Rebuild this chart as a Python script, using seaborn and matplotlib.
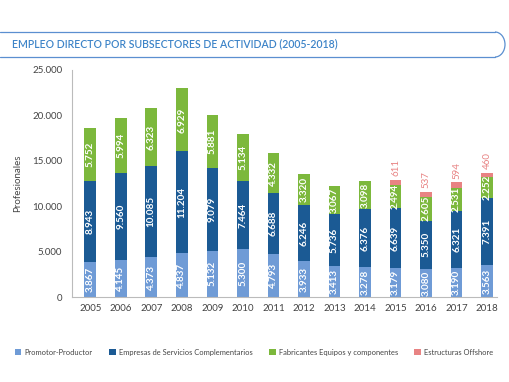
import matplotlib.pyplot as plt
import numpy as np
import pandas as pd
import seaborn as sns
from matplotlib.patches import Arc, Patch
from matplotlib.lines import Line2D

years = ['2005', '2006', '2007', '2008', '2009', '2010', '2011',
         '2012', '2013', '2014', '2015', '2016', '2017', '2018']
promotor = [3867, 4145, 4373, 4837, 5132, 5300, 4793, 3933, 3413, 3278, 3179, 3080, 3190, 3563]
servicios = [8943, 9560, 10085, 11204, 9079, 7464, 6688, 6246, 5736, 6376, 6639, 5350, 6321, 7391]
fabricantes = [5752, 5994, 6323, 6929, 5881, 5134, 4332, 3320, 3067, 3098, 2494, 2605, 2531, 2252]
offshore = [0, 0, 0, 0, 0, 0, 0, 0, 0, 0, 611, 537, 594, 460]

names = ['Promotor-Productor', 'Empresas de Servicios Complementarios',
         'Fabricantes Equipos y componentes', 'Estructuras Offshore']
colors = ['#6f9bd6', '#1b5a94', '#7cb83c', '#e88383']

df = pd.DataFrame({'year': years, 'p': promotor, 's': servicios,
                   'f': fabricantes, 'o': offshore})
df['c1'] = df['p']
df['c2'] = df['c1'] + df['s']
df['c3'] = df['c2'] + df['f']
df['c4'] = df['c3'] + df['o']

sns.set_style('white')
plt.rcParams['font.family'] = ['Lato', 'DejaVu Sans']

fig = plt.figure(figsize=(5.1, 3.82), dpi=100)
ax = fig.add_axes([0.141, 0.222, 0.834, 0.595])

w = 0.38
for col, c in zip(['c4', 'c3', 'c2', 'c1'], colors[::-1]):
    sns.barplot(data=df, x='year', y=col, color=c, width=w, ax=ax,
                saturation=1, linewidth=0)

def fmt(v):
    return f'{v:,}'.replace(',', '.')

for i in range(len(years)):
    bottoms = [0, df['c1'][i], df['c2'][i]]
    vals = [promotor[i], servicios[i], fabricantes[i]]
    for b, v in zip(bottoms, vals):
        ax.text(i, b + v / 2, fmt(v), rotation=90, ha='center', va='center',
                color='white', fontsize=7.1, fontweight='bold')
    if offshore[i]:
        ax.text(i, df['c4'][i] + 400, fmt(offshore[i]), rotation=90,
                ha='center', va='bottom', color=colors[3], fontsize=7)

ax.set_ylim(0, 25000)
ax.set_xlim(-0.6, 13.33)
ax.set_yticks(range(0, 25001, 5000))
ax.set_yticklabels([fmt(v) for v in range(0, 25001, 5000)])
ax.tick_params(axis='both', length=0, labelsize=7, colors='#444444')
ax.tick_params(axis='y', pad=7)
ax.tick_params(axis='x', pad=5)
ax.set_xlabel('')
ax.set_ylabel('Profesionales', fontsize=7, color='#444444')
ax.yaxis.set_label_coords(-0.118, 0.5)
for s in ['top', 'right']:
    ax.spines[s].set_visible(False)
for s in ['left', 'bottom']:
    ax.spines[s].set_color('#bbbbbb')
    ax.spines[s].set_linewidth(0.8)

# title box: open on the left, rounded on the right (inches)
tr = fig.dpi_scale_trans
ec = '#5b8fd0'
y0, y1, xr = 3.25, 3.50, 5.05
fig.add_artist(Line2D([0, xr - 0.1], [y1, y1], transform=tr, color=ec, lw=0.9))
fig.add_artist(Line2D([0, xr - 0.1], [y0, y0], transform=tr, color=ec, lw=0.9))
fig.add_artist(Arc((xr - 0.1, (y0 + y1) / 2), 0.2, y1 - y0, theta1=-90, theta2=90,
                   transform=tr, color=ec, lw=0.9))
fig.text(12 / 510, 1 - 44 / 382, 'EMPLEO DIRECTO POR SUBSECTORES DE ACTIVIDAD (2005-2018)',
         fontsize=7.6, color='#3d84c8', va='center', ha='left', fontweight='semibold')

handles = [Patch(facecolor=c, edgecolor='none') for c in colors]
fig.legend(handles, names, loc='center', bbox_to_anchor=(0.498, 0.078), ncol=4,
           frameon=False, fontsize=5.4, handlelength=0.9, handleheight=0.9,
           handletextpad=0.4, columnspacing=2.2, labelcolor='#444444')

fig.savefig('out.png', dpi=100)
